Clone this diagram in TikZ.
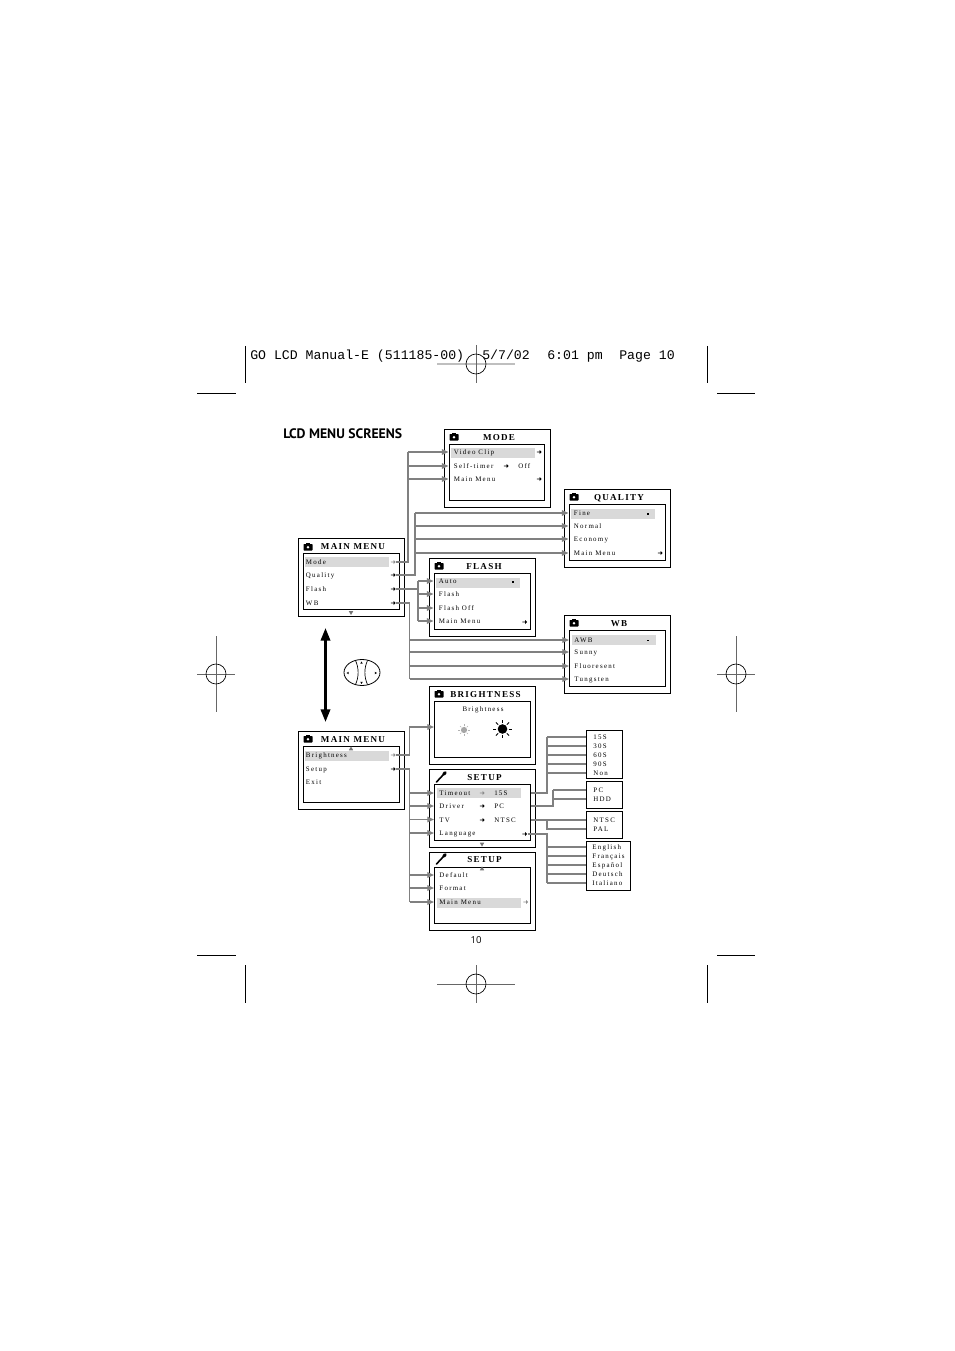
\documentclass[tikz,border=0pt]{standalone}
\usepackage{fontspec}
\usepackage{tikz}
\usetikzlibrary{arrows.meta, positioning, calc, shapes.geometric, shapes.arrows}
\setmainfont{Liberation Serif}
\newfontfamily\menufont[LetterSpace=18]{Liberation Serif}
\newfontfamily\headfont[LetterSpace=14]{Liberation Serif}
\newfontfamily\slugfont{Liberation Mono}
\newfontfamily\titlefont{PT Sans}
\newfontfamily\pagefont{Open Sans}
\definecolor{linkgray}{gray}{.5}
\definecolor{bargray}{gray}{.85}

\tikzset{
    outerbox/.style={draw, line width=.7pt, minimum width=79.5pt, minimum height=58pt, inner sep=0},
    innerbox/.style={draw, line width=.7pt, minimum width=71.5pt, minimum height=42pt, inner sep=0},
    optbox/.style={draw, line width=.7pt, anchor=north west, inner sep=0},
    titletext/.style={font=\headfont\bfseries\fontsize{6.8pt}{7pt}\selectfont, inner sep=0, yshift=-.75pt},
    item/.style={font=\menufont\fontsize{5.2pt}{6pt}\selectfont, anchor=west, inner xsep=3.9pt, inner ysep=0, text height=5pt, text depth=1pt},
    opt/.style={item, inner xsep=5.4pt},
    plain/.style={font=\menufont\fontsize{5.2pt}{6pt}\selectfont, anchor=west, inner sep=0, text height=5pt, text depth=1pt},
    bar/.style={fill=bargray, anchor=north west, inner sep=0, minimum width=63pt, minimum height=7pt},
    mk/.style={shape=single arrow, fill=black, inner sep=0, minimum height=3.6pt, minimum width=3pt, single arrow head extend=.7pt},
    mkgray/.style={mk, fill=black!45},
    dotmk/.style={fill=black, inner sep=0, minimum width=1.1pt, minimum height=1.1pt},
    updown/.style={shape=regular polygon, regular polygon sides=3, fill=black!55, inner sep=0, minimum size=3.8pt},
    link/.style={draw=linkgray, line width=.95pt, rounded corners=0pt},
    tolink/.style={link, -{Triangle[length=5pt, width=4.2pt]}},
    crop/.style={line width=.6pt},
    reg/.style={draw=black!60, line width=.5pt},
    camera/.pic={
        \fill[rounded corners=.4pt] (-4.5,-3) rectangle (4.5,3.5);
        \fill (-2.2,-4) rectangle (2.2,-2);
        \fill[white] (0,.3) circle (1.4);
    },
    wrench/.pic={
        \draw[line width=1.2pt, line cap=round] (-4.5,5) -- (2.5,-2.5);
        \draw[line width=2.3pt, line cap=round] (2.8,-2.8) -- (4.2,-4.4);
    }
}

\newcommand{\regmark}[5]{
    \draw[reg, #5] (#1-#3,#2) -- (#1+#3,#2);
    \draw[reg] (#1,#2-#4) -- (#1,#2+#4);
    \draw[line width=.5pt] (#1,#2) circle (7.5pt);
}

\begin{document}
\begin{tikzpicture}[x=.75pt, y=-.75pt]
        \useasboundingbox (0,0) rectangle (954,1351);

        % Printer marks
        \regmark{476}{364}{39}{19}{line width=1pt, draw=black!25}
        \regmark{476}{984}{39}{19}{}
        \regmark{216}{674}{19}{38}{}
        \regmark{736}{674}{19}{38}{}
        \draw[crop] (245,346) -- (245,383);
        \draw[crop] (707,346) -- (707,383);
        \draw[crop] (245,965) -- (245,1003);
        \draw[crop] (707,965) -- (707,1003);
        \draw[crop] (197,393) -- (236,393);
        \draw[crop] (717,393) -- (755,393);
        \draw[crop] (197,955) -- (236,955);
        \draw[crop] (717,955) -- (755,955);

        % Slug line, heading, page number
        \node[anchor=base west, inner sep=0, font=\slugfont\fontsize{9.9pt}{11pt}\selectfont] (slug) at (250,359) {GO LCD Manual-E (511185-00)};
        \node[anchor=base west, inner sep=0, font=\slugfont\fontsize{9.9pt}{11pt}\selectfont] (slugdate) at (482,359) {5/7/02};
        \node[anchor=base west, inner sep=0, font=\slugfont\fontsize{9.9pt}{11pt}\selectfont] (slugtime) at (547,359) {6:01 pm};
        \node[anchor=base west, inner sep=0, font=\slugfont\fontsize{9.9pt}{11pt}\selectfont] (slugpage) at (619,359) {Page 10};
        \node[anchor=west, inner sep=0, font=\titlefont\bfseries\fontsize{10.3pt}{11pt}\selectfont] (heading) at (283,434) {LCD MENU SCREENS};
        \node[inner sep=0, font=\pagefont\fontsize{7.2pt}{8pt}\selectfont] (pagenum) at (476,940) {10};

        % Screen frames
        \node[outerbox] (mode) at (497,468.5) {};
        \node[innerbox] (modein) at (497,472) {};
        \node[outerbox] (quality) at (617,528.5) {};
        \node[innerbox] (qualityin) at (617.5,532.5) {};
        \node[outerbox] (mainA) at (351,577.5) {};
        \node[innerbox] (mainAin) at (351.5,581) {};
        \node[outerbox] (flash) at (482.5,597.5) {};
        \node[innerbox] (flashin) at (482.5,601) {};
        \node[outerbox] (wb) at (617.5,654.5) {};
        \node[innerbox] (wbin) at (617.5,658.5) {};
        \node[outerbox] (bright) at (482.5,725.5) {};
        \node[innerbox] (brightin) at (482.5,729) {};
        \node[outerbox] (mainB) at (351,770.5) {};
        \node[innerbox] (mainBin) at (351.5,774) {};
        \node[outerbox] (setupA) at (482.5,808.5) {};
        \node[innerbox] (setupAin) at (482.5,812) {};
        \node[outerbox] (setupB) at (482.5,891.5) {};
        \node[innerbox] (setupBin) at (482.5,895) {};

        % Highlight bars
        \node[bar] (barmode) at (451,448) {};
        \node[bar] (barquality) at (571,509) {};
        \node[bar] (barmainA) at (305,557) {};
        \node[bar] (barflash) at (436,578) {};
        \node[bar] (barwb) at (572,635) {};
        \node[bar] (barmainB) at (305,751) {};
        \node[bar] (barsetupA) at (437,788) {};
        \node[bar] (barsetupB) at (437,898) {};

        % Titles
        \node[titletext] (tmainA) at (353,546) {MAIN MENU};
        \node[titletext] (tmode) at (499,437) {MODE};
        \node[titletext] (tquality) at (619,497) {QUALITY};
        \node[titletext] (tflash) at (484,566) {FLASH};
        \node[titletext] (twb) at (619,623) {WB};
        \node[titletext] (tbright) at (485.5,694) {BRIGHTNESS};
        \node[titletext] (tmainB) at (353,739) {MAIN MENU};
        \node[titletext] (tsetupA) at (484.5,777) {SETUP};
        \node[titletext] (tsetupB) at (484.5,859) {SETUP};

        % Icons
        \foreach \cx/\cy in {308/547, 454/437, 574/497, 439/566, 574/623, 439/694, 308/739}
            \pic at (\cx,\cy) {camera};
        \pic at (441,777) {wrench};
        \pic at (441,859) {wrench};

        % Main menu items
        \node[item] (iMode) at (300.5,562) {Mode};
        \node[item] (iQuality) at (300.5,575) {Quality};
        \node[item] (iFlash) at (300.5,589) {Flash};
        \node[item] (iWb) at (300.5,603) {WB};
        \node[mkgray] (mMode) at (393,562) {};
        \node[mk] (mQuality) at (393,575) {};
        \node[mk] (mFlash) at (393,589) {};
        \node[mk] (mWb) at (393,603) {};
        \node[updown, shape border rotate=180] (downA) at (351,612.5) {};

        % Mode items
        \node[item] (iVideo) at (448.5,452) {Video Clip};
        \node[item] (iSelf) at (448.5,466) {Self-timer};
        \node[item] (iModeMenu) at (448.5,479) {Main Menu};
        \node[plain] (iOff) at (518,466) {Off};
        \node[mk] (mVideo) at (539,452) {};
        \node[mk] (mSelf) at (506,466) {};
        \node[mk] (mModeMenu) at (539,479) {};

        % Quality items
        \node[item] (iFine) at (568.5,513) {Fine};
        \node[item] (iNormal) at (568.5,526) {Normal};
        \node[item] (iEconomy) at (568.5,539) {Economy};
        \node[item] (iQualMenu) at (568.5,553) {Main Menu};
        \node[dotmk] (mFine) at (648,514) {};
        \node[mk] (mQualMenu) at (660,553) {};

        % Flash items
        \node[item] (iAuto) at (433.5,581) {Auto};
        \node[item] (iFlashOn) at (433.5,594) {Flash};
        \node[item] (iFlashOff) at (433.5,608) {Flash Off};
        \node[item] (iFlashMenu) at (433.5,621) {Main Menu};
        \node[dotmk] (mAuto) at (513,582) {};
        \node[mk] (mFlashMenu) at (524.5,622) {};

        % WB items
        \node[item] (iAwb) at (569,640) {AWB};
        \node[item] (iSunny) at (569,652) {Sunny};
        \node[item] (iFluor) at (569,666) {Fluoresent};
        \node[item] (iTung) at (569,679) {Tungsten};
        \node[dotmk] (mAwb) at (648,640.5) {};

        % Brightness screen
        \node[plain, anchor=center] (iBright) at (483,709) {Brightness};
        \coordinate (brightport) at (434,727);
        \coordinate (sundim) at (464,730);
        \coordinate (sunfull) at (502.5,729);
        \fill[black!35] (sundim) circle (2.3pt);
        \fill (sunfull) circle (3.6pt);
        \foreach \ang in {0,45,...,315} {
            \draw[black!30, line width=.4pt] ($(sundim)+(\ang:2.8pt)$) -- ($(sundim)+(\ang:4.2pt)$);
            \draw[line width=.6pt] ($(sunfull)+(\ang:4.6pt)$) -- ($(sunfull)+(\ang:7pt)$);
        }

        % Second main menu items
        \node[item] (iBrightness) at (300.5,755) {Brightness};
        \node[item] (iSetup) at (300.5,768.5) {Setup};
        \node[item] (iExit) at (300.5,781.5) {Exit};
        \node[mkgray] (mBrightness) at (393,755) {};
        \node[mk] (mSetup) at (393,769) {};
        \node[updown] (upB) at (351,749) {};

        % Setup items
        \node[item] (iTimeout) at (434,793) {Timeout};
        \node[item] (iDriver) at (434,806) {Driver};
        \node[item] (iTv) at (434,819.5) {TV};
        \node[item] (iLang) at (434,833) {Language};
        \node[plain] (iTimeVal) at (494,793) {15S};
        \node[plain] (iDrvVal) at (494,806) {PC};
        \node[plain] (iTvVal) at (494,819.5) {NTSC};
        \node[mkgray] (mTimeout) at (482,793) {};
        \node[mk] (mDriver) at (482,806) {};
        \node[mk] (mTv) at (482,820) {};
        \node[mk] (mLang) at (524.5,834) {};
        \node[updown, shape border rotate=180] (downS) at (482,844) {};
        \node[item] (iDefault) at (434,875) {Default};
        \node[item] (iFormat) at (434,888) {Format};
        \node[item] (iSetupMenu) at (434,902) {Main Menu};
        \node[mkgray] (mSetupMenu) at (525.5,902) {};
        \node[updown] (upS) at (482,869) {};

        % Option lists
        \node[optbox, minimum width=27pt, minimum height=36pt] (optTime) at (586,730) {};
        \node[optbox, minimum width=27pt, minimum height=20.5pt] (optDrv) at (586,781) {};
        \node[optbox, minimum width=27pt, minimum height=20.5pt] (optTv) at (586,811) {};
        \node[optbox, minimum width=33pt, minimum height=37pt] (optLang) at (586,841) {};
        \node[opt] (o15) at (586,737) {15S};
        \node[opt] (o30) at (586,746) {30S};
        \node[opt] (o60) at (586,755) {60S};
        \node[opt] (o90) at (586,764) {90S};
        \node[opt] (oNon) at (586,773) {Non};
        \node[opt] (oPc) at (586,790) {PC};
        \node[opt] (oHdd) at (586,799) {HDD};
        \node[opt] (oNtsc) at (586,820) {NTSC};
        \node[opt] (oPal) at (586,829) {PAL};
        \node[opt, inner xsep=4.6pt] (oEn) at (586,847) {English};
        \node[opt, inner xsep=4.6pt] (oFr) at (586,856) {Français};
        \node[opt, inner xsep=4.6pt] (oEs) at (586,865) {Español};
        \node[opt, inner xsep=4.6pt] (oDe) at (586,874) {Deutsch};
        \node[opt, inner xsep=4.6pt] (oIt) at (586,883) {Italiano};

        % Bus lines
        \coordinate (busMode) at (408,0);
        \coordinate (busQuality) at (415,0);
        \coordinate (busFlash) at (418,0);
        \coordinate (busWb) at (409.5,0);
        \coordinate (busSetup) at (409.5,0);
        \coordinate (busTime) at (547,0);
        \coordinate (busDrv) at (553,0);
        \coordinate (busTv) at (547,0);
        \coordinate (busLang) at (547,0);

        % Relationships
        \draw[link] (mMode.east) -| (busMode |- iVideo);
        \draw[link] (busMode |- iVideo) -- (busMode |- iModeMenu);
        \foreach \name in {iVideo, iSelf, iModeMenu}
            \draw[tolink] (busMode |- \name) -- (\name.west);
        \draw[link] (mQuality.east) -| (busQuality |- iFine);
        \foreach \name in {iFine, iNormal, iEconomy, iQualMenu}
            \draw[tolink] (busQuality |- \name) -- (\name.west);
        \draw[link] (mFlash.east) -- (busFlash |- mFlash);
        \draw[link] (busFlash |- iAuto) -- (busFlash |- iFlashMenu);
        \foreach \name in {iAuto, iFlashOn, iFlashOff, iFlashMenu}
            \draw[tolink] (busFlash |- \name) -- (\name.west);
        \draw[link] (mWb.east) -| (busWb |- iTung);
        \foreach \name in {iAwb, iSunny, iFluor, iTung}
            \draw[tolink] (busWb |- \name) -- (\name.west);
        \draw[tolink] (mBrightness.east) -| (busSetup |- brightport) -- (brightport);
        \draw[link] (mSetup.east) -| (busSetup |- iSetupMenu);
        \foreach \name in {iTimeout, iDriver, iTv, iLang, iDefault, iFormat, iSetupMenu}
            \draw[tolink] (busSetup |- \name) -- (\name.west);

        % Option branches
        \draw[link] (setupAin.east |- iTimeout) -| (busTime |- o15);
        \foreach \name in {o15, o30, o60, o90, oNon}
            \draw[link] (busTime |- \name) -- (\name.west);
        \draw[link] (setupAin.east |- iDriver) -| (busDrv |- oPc);
        \foreach \name in {oPc, oHdd}
            \draw[link] (busDrv |- \name) -- (\name.west);
        \draw[link] (setupAin.east |- oNtsc) -- (oNtsc.west);
        \draw[link] (busTv |- oNtsc) |- (oPal.west);
        \draw[link] (mLang.east) -| (busLang |- oIt);
        \foreach \name in {oEn, oFr, oEs, oDe, oIt}
            \draw[link] (busLang |- \name) -- (\name.west);

        % Navigation arrow and pad
        \coordinate (navtop) at (325.5,628);
        \coordinate (navbot) at (325.5,722);
        \draw[line width=1.9pt, {Triangle[length=9.5pt, width=7pt]}-{Triangle[length=9.5pt, width=7pt]}] (navtop) -- (navbot);
        \node[draw, ellipse, line width=.6pt, minimum width=27pt, minimum height=19.5pt, inner sep=0] (pad) at (362,672.5) {};
        \draw[line width=.5pt] (355.5,660.5) .. controls (359,668) and (359,677) .. (355.5,684.5);
        \draw[line width=.5pt] (367.5,660.5) .. controls (364,668) and (364,677) .. (367.5,684.5);
        \node[updown, minimum size=2.2pt, fill=black] (padup) at (361.5,663) {};
        \node[updown, minimum size=2.2pt, fill=black, shape border rotate=180] (paddown) at (361.5,682.5) {};
        \node[updown, minimum size=2.2pt, fill=black, shape border rotate=90] (padleft) at (348,673) {};
        \node[updown, minimum size=2.2pt, fill=black, shape border rotate=-90] (padright) at (375.5,673) {};
    \end{tikzpicture}
\end{document}
